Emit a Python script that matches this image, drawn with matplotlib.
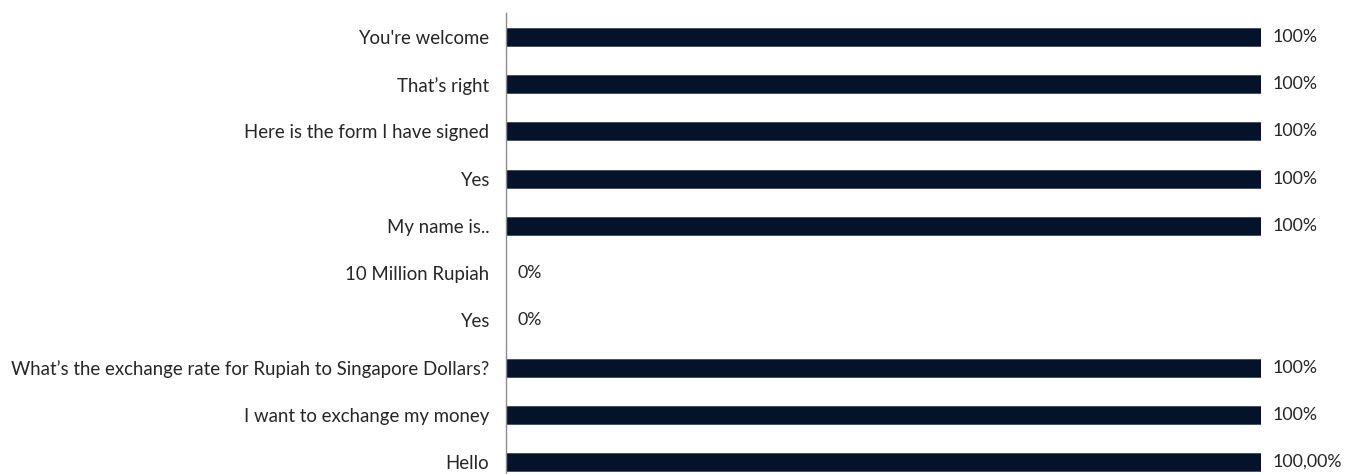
import matplotlib
matplotlib.use('Agg')
import matplotlib.pyplot as plt

# data, bottom to top
categories = ["Hello", "I want to exchange my money",
              "What\u2019s the exchange rate for Rupiah to Singapore Dollars?",
              "Yes", "10 Million Rupiah", "My name is..", "Yes",
              "Here is the form I have signed", "That\u2019s right", "You're welcome"]
values = [1.0, 1.0, 1.0, 0.0, 0.0, 1.0, 1.0, 1.0, 1.0, 1.0]
labels = ["100,00%", "100%", "100%", "0%", "0%", "100%", "100%", "100%", "100%", "100%"]

plt.rcParams['font.family'] = ['Lato', 'DejaVu Sans']

fig = plt.figure(figsize=(13.54, 4.74), dpi=100)
ax = fig.add_axes([506/1354, 0, (1261-506)/1354, (474-13)/474])

pos = list(range(len(categories)))
ax.barh(pos, values, height=0.38, color='#041329', edgecolor='#3a4a60', linewidth=0.6)

for p, v, t in zip(pos, values, labels):
    ax.annotate(t, (v, p), xytext=(8, 0), textcoords='offset points',
                va='center', ha='left', fontsize=12.8, color='#262626',
                annotation_clip=False)

ax.set_xlim(0, 1)
ax.set_ylim(-0.254, 9.508)
ax.set_yticks(pos)
ax.set_yticklabels(categories, fontsize=13.4, color='#262626')
ax.tick_params(axis='y', length=0, pad=12)
ax.set_xticks([])
for s in ['top', 'right', 'bottom']:
    ax.spines[s].set_visible(False)
ax.spines['left'].set_color('#8c8c8c')
ax.spines['left'].set_linewidth(1.0)

fig.savefig('out.png', dpi=100)
